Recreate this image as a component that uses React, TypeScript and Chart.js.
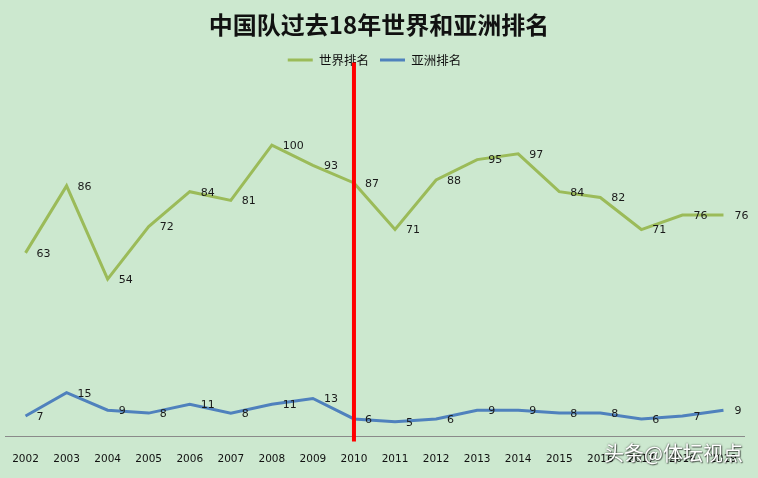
import React, { useEffect, useRef } from 'react';
import { Chart, registerables } from 'chart.js';

Chart.register(...registerables);

const years = ['2002', '2003', '2004', '2005', '2006', '2007', '2008', '2009', '2010', '2011', '2012', '2013', '2014', '2015', '2016', '2017', '2018', '2019'];
const worldRank = [63, 86, 54, 72, 84, 81, 100, 93, 87, 71, 88, 95, 97, 84, 82, 71, 76, 76];
const asiaRank = [7, 15, 9, 8, 11, 8, 11, 13, 6, 5, 6, 9, 9, 8, 8, 6, 7, 9];
const markedYear = '2010';
const titleText = '中国队过去18年世界和亚洲排名';
const seriesNames = ['世界排名', '亚洲排名'];
const watermark = '头条@体坛视点';

const BG = '#CCE8CF';
const TITLE_FONT = 'bold 24px "Noto Sans CJK SC", sans-serif';

const pointLabelPlugin = {
  id: 'pointLabelPlugin',
  afterDatasetsDraw(chart: any) {
    const ctx = chart.ctx;
    ctx.save();
    ctx.font = '11px "DejaVu Sans", sans-serif';
    ctx.fillStyle = '#1a1a1a';
    ctx.textAlign = 'left';
    ctx.textBaseline = 'middle';
    chart.data.datasets.forEach((ds: any, i: number) => {
      const meta = chart.getDatasetMeta(i);
      meta.data.forEach((pt: any, j: number) => {
        ctx.fillText(String(ds.data[j]), pt.x + 11, pt.y + 1);
      });
    });
    ctx.restore();
  },
};

// Draws the title centred on the full canvas width (Chart.js's own title reserves the space).
const centeredTitlePlugin = {
  id: 'centeredTitlePlugin',
  afterDraw(chart: any) {
    const t = chart.titleBlock;
    if (!t) return;
    const ctx = chart.ctx;
    ctx.save();
    ctx.font = TITLE_FONT;
    ctx.fillStyle = '#111';
    ctx.textAlign = 'center';
    ctx.textBaseline = 'middle';
    const pad = t.options.padding;
    const top = t.top + (pad.top || 0);
    const bottom = t.bottom - (pad.bottom || 0);
    ctx.fillText(titleText, chart.width / 2, (top + bottom) / 2);
    ctx.restore();
  },
};

const markerPlugin = {
  id: 'markerPlugin',
  afterDraw(chart: any) {
    const xScale = chart.scales.x;
    const idx = years.indexOf(markedYear);
    const x = xScale.getPixelForValue(idx);
    const legend = chart.legend;
    const top = legend.top + legend.height / 2 + 3;
    const bottom = chart.chartArea.bottom + 5;
    const ctx = chart.ctx;
    ctx.save();
    ctx.strokeStyle = '#FF0000';
    ctx.lineWidth = 4;
    ctx.beginPath();
    ctx.moveTo(x, top);
    ctx.lineTo(x, bottom);
    ctx.stroke();
    ctx.restore();
  },
};

export default function App() {
  const canvasRef = useRef<HTMLCanvasElement | null>(null);

  useEffect(() => {
    document.body.style.margin = '0';
    document.body.style.background = BG;
    const canvas = canvasRef.current;
    if (!canvas) return;
    const chart = new Chart(canvas, {
      type: 'line',
      data: {
        labels: years,
        datasets: [
          {
            label: seriesNames[0],
            data: worldRank,
            borderColor: '#9BBB59',
            backgroundColor: '#9BBB59',
            borderWidth: 3,
            pointRadius: 0,
            tension: 0,
          },
          {
            label: seriesNames[1],
            data: asiaRank,
            borderColor: '#4F81BD',
            backgroundColor: '#4F81BD',
            borderWidth: 3,
            pointRadius: 0,
            tension: 0,
          },
        ],
      },
      options: {
        animation: false,
        responsive: false,
        maintainAspectRatio: false,
        layout: { padding: { left: 5, right: 14, top: 0, bottom: 9 } },
        plugins: {
          title: {
            display: true,
            text: titleText,
            color: 'rgba(0,0,0,0)',
            font: { family: '"Noto Sans CJK SC", sans-serif', size: 24, weight: 'bold' },
            padding: { top: 10, bottom: 4 },
          },
          legend: {
            display: true,
            position: 'top',
            labels: {
              color: '#111',
              font: { family: '"Noto Sans CJK SC", sans-serif', size: 12.5 },
              boxWidth: 25,
              boxHeight: 3,
              padding: 11,
              generateLabels(chart: any) {
                const items = Chart.defaults.plugins.legend.labels.generateLabels(chart);
                return items.map((it: any) => ({ ...it, fillStyle: it.strokeStyle, lineWidth: 0 }));
              },
            },
          },
          tooltip: { enabled: false },
        },
        scales: {
          x: {
            offset: true,
            grid: { display: false, drawTicks: true, tickLength: 14 },
            border: { display: true, color: '#8A8A8A', width: 1 },
            ticks: {
              color: '#111',
              font: { family: '"DejaVu Sans", sans-serif', size: 10.5 },
              padding: 3,
              maxRotation: 0,
              autoSkip: false,
            },
          },
          y: {
            display: false,
            min: 0,
            max: 123.6,
          },
        },
      },
      plugins: [pointLabelPlugin, centeredTitlePlugin, markerPlugin],
    });
    return () => chart.destroy();
  }, []);

  return (
    <div style={{ position: 'relative', width: 758, height: 478, background: BG }}>
      <canvas ref={canvasRef} width={758} height={478} style={{ display: 'block' }} />
      <div
        style={{
          position: 'absolute',
          left: 604,
          top: 441,
          fontFamily: '"Noto Sans CJK SC", sans-serif',
          fontSize: 20,
          lineHeight: '24px',
          color: '#FFFFFF',
          textShadow: '0 0 2px rgba(0,0,0,0.7), 1px 1px 1px rgba(0,0,0,0.5)',
          whiteSpace: 'nowrap',
        }}
      >
        {watermark}
      </div>
    </div>
  );
}
